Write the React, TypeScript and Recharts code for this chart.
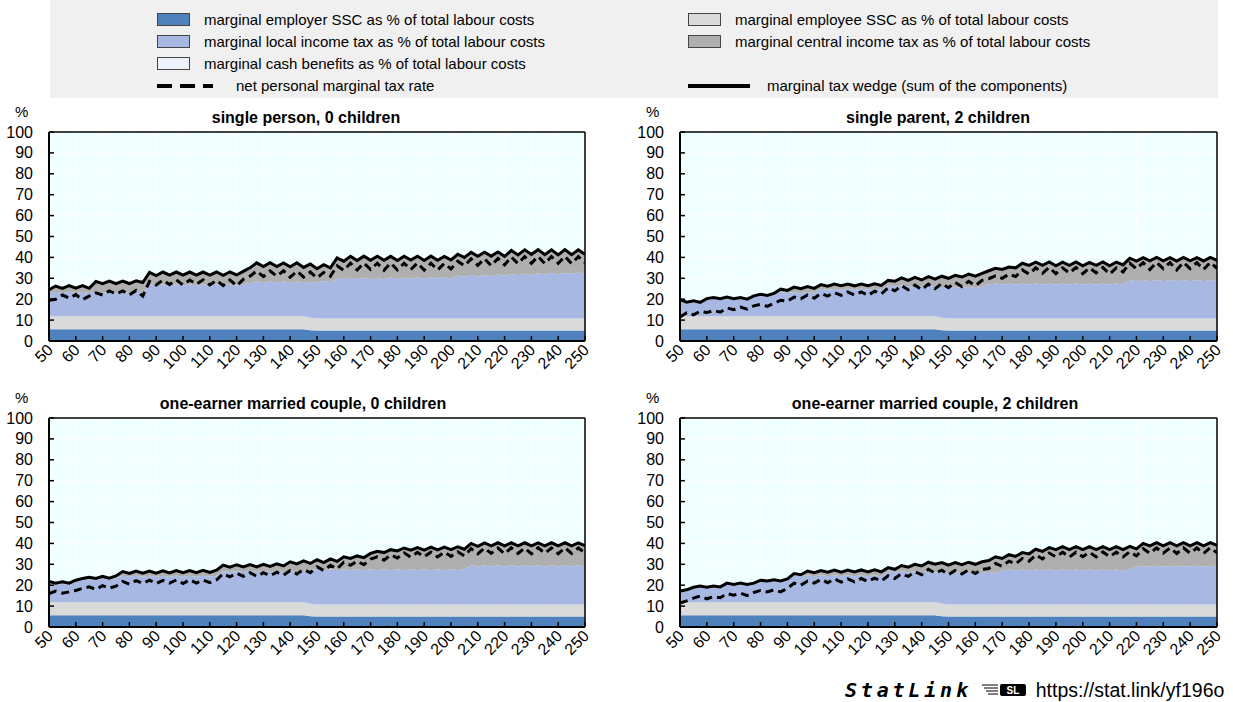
import { ComposedChart, Area, Line, XAxis, YAxis, CartesianGrid, ReferenceLine } from "recharts";

const FONT = "'Liberation Sans', Arial, sans-serif";

// gross earnings as % of average wage
const xs = [
  50, 52.5, 55, 57.5, 60, 62.5, 65, 67.5, 70, 72.5,
  75, 77.5, 80, 82.5, 85, 87.5, 90, 92.5, 95, 97.5,
  100, 102.5, 105, 107.5, 110, 112.5, 115, 117.5, 120, 122.5,
  125, 127.5, 130, 132.5, 135, 137.5, 140, 142.5, 145, 147.5,
  150, 152.5, 155, 157.5, 160, 162.5, 165, 167.5, 170, 172.5,
  175, 177.5, 180, 182.5, 185, 187.5, 190, 192.5, 195, 197.5,
  200, 202.5, 205, 207.5, 210, 212.5, 215, 217.5, 220, 222.5,
  225, 227.5, 230, 232.5, 235, 237.5, 240, 242.5, 245, 247.5,
  250,
];
const xTicks = [50, 60, 70, 80, 90, 100, 110, 120, 130, 140, 150, 160, 170, 180, 190, 200, 210, 220, 230, 240, 250];
const yTicks = [0, 10, 20, 30, 40, 50, 60, 70, 80, 90, 100];

// same for every household type
const employerSSC = [
  5.6, 5.6, 5.6, 5.6, 5.6, 5.6, 5.6, 5.6, 5.6, 5.6,
  5.6, 5.6, 5.6, 5.6, 5.6, 5.6, 5.6, 5.6, 5.6, 5.6,
  5.6, 5.6, 5.6, 5.6, 5.6, 5.6, 5.6, 5.6, 5.6, 5.6,
  5.6, 5.6, 5.6, 5.6, 5.6, 5.6, 5.6, 5.6, 5.6, 5.2,
  5.0, 5.0, 5.0, 5.0, 5.0, 5.0, 5.0, 5.0, 5.0, 5.0,
  5.0, 5.0, 5.0, 5.0, 5.0, 5.0, 5.0, 5.0, 5.0, 5.0,
  5.0, 5.0, 5.0, 5.0, 5.0, 5.0, 5.0, 5.0, 5.0, 5.0,
  5.0, 5.0, 5.0, 5.0, 5.0, 5.0, 5.0, 5.0, 5.0, 5.0,
  5.0,
];
const employeeSSC = [
  6.2, 6.2, 6.2, 6.2, 6.2, 6.2, 6.2, 6.2, 6.2, 6.2,
  6.2, 6.2, 6.2, 6.2, 6.2, 6.2, 6.2, 6.2, 6.2, 6.2,
  6.2, 6.2, 6.2, 6.2, 6.2, 6.2, 6.2, 6.2, 6.2, 6.2,
  6.2, 6.2, 6.2, 6.2, 6.2, 6.2, 6.2, 6.2, 6.2, 5.9,
  5.8, 5.8, 5.8, 5.8, 5.8, 5.8, 5.8, 5.8, 5.8, 5.8,
  5.8, 5.8, 5.8, 5.8, 5.8, 5.8, 5.8, 5.8, 5.8, 5.8,
  5.8, 5.8, 5.8, 5.8, 5.8, 5.8, 5.8, 5.8, 5.8, 5.8,
  5.8, 5.8, 5.8, 5.8, 5.8, 5.8, 5.8, 5.8, 5.8, 5.8,
  5.8,
];

// single person, 0 children
const singleWedge = [
  24.5, 26.3, 25.2, 26.5, 25.3, 26.5, 25.2, 28.5, 27.4, 28.7,
  27.4, 28.7, 27.5, 28.8, 28.0, 32.8, 31.3, 33.0, 31.5, 33.0,
  31.5, 33.0, 31.5, 33.0, 31.5, 33.0, 31.4, 33.0, 31.6, 33.3,
  35.0, 37.4, 35.6, 37.5, 35.6, 37.3, 35.5, 37.4, 35.2, 36.8,
  34.6, 36.5, 35.0, 39.8, 38.2, 40.5, 38.5, 40.6, 38.6, 40.6,
  38.6, 40.5, 38.5, 40.6, 38.7, 40.6, 38.5, 40.6, 38.6, 40.5,
  38.8, 41.5, 40.0, 42.4, 40.5, 42.5, 40.6, 42.6, 40.5, 43.3,
  41.2, 43.6, 41.4, 43.7, 41.3, 43.6, 41.2, 43.7, 41.3, 43.6,
  41.5,
];
const singleLocal = [
  11.0, 11.8, 11.0, 11.8, 11.0, 11.8, 11.0, 11.8, 11.2, 11.9,
  11.2, 11.9, 11.2, 11.9, 11.4, 15.4, 14.8, 15.4, 14.8, 15.4,
  14.8, 15.4, 14.8, 15.4, 14.8, 15.4, 14.8, 15.4, 14.8, 15.4,
  16.0, 16.8, 16.0, 16.8, 16.0, 16.8, 16.0, 16.8, 16.0, 17.0,
  17.3, 17.9, 17.3, 19.5, 18.7, 19.5, 18.7, 19.5, 18.7, 19.5,
  18.8, 19.6, 18.8, 19.6, 18.9, 19.7, 18.9, 19.7, 19.0, 19.8,
  19.0, 20.6, 20.0, 20.8, 20.1, 20.9, 20.2, 21.0, 20.4, 21.3,
  20.6, 21.5, 20.8, 21.6, 21.0, 21.8, 21.1, 21.9, 21.2, 22.0,
  21.4,
];
const singleNet = [
  19.5, 20.0, 22.0, 20.5, 22.2, 19.8, 21.5, 23.0, 22.0, 24.0,
  22.5, 24.0, 22.0, 24.2, 21.5, 28.5, 26.8, 29.2, 27.0, 29.3,
  26.8, 29.2, 27.2, 29.3, 26.8, 29.0, 26.5, 29.2, 26.4, 29.5,
  31.0, 33.5, 30.8, 33.5, 31.0, 33.6, 30.5, 33.4, 30.6, 33.0,
  30.2, 32.8, 31.0, 36.0, 33.8, 37.2, 34.0, 37.3, 34.2, 37.2,
  33.8, 37.3, 34.0, 37.2, 34.2, 37.3, 33.9, 37.2, 34.0, 37.1,
  34.5, 38.2, 36.0, 39.3, 36.2, 39.4, 36.0, 39.5, 36.4, 40.2,
  37.0, 40.4, 37.2, 40.5, 37.0, 40.4, 37.2, 40.5, 37.0, 40.4,
  37.5,
];

// single parent, 2 children
const parentWedge = [
  19.8, 18.6, 19.2, 18.5, 20.3, 20.8, 20.2, 21.0, 20.2, 20.8,
  20.0, 21.6, 22.4, 21.8, 22.8, 24.8, 24.2, 25.8, 25.0, 26.0,
  25.2, 27.0, 26.2, 27.2, 26.4, 27.2, 26.4, 27.3, 26.5, 27.4,
  26.6, 29.0, 28.6, 30.2, 29.0, 30.4, 29.2, 30.8, 29.6, 31.0,
  30.0, 31.4, 30.6, 32.0, 31.0, 32.4, 33.6, 34.8, 34.2, 35.4,
  35.0, 37.2, 36.2, 37.7, 36.2, 37.8, 36.0, 37.7, 36.2, 37.8,
  36.0, 37.6, 36.2, 37.8, 36.0, 37.7, 36.4, 39.6, 38.2, 39.9,
  38.4, 40.0, 38.4, 39.9, 38.2, 40.0, 38.4, 39.9, 38.3, 40.0,
  38.6,
];
const parentLocal = [
  7.4, 6.2, 6.8, 6.1, 7.9, 8.4, 7.8, 8.6, 7.8, 8.4,
  7.6, 9.2, 10.0, 9.4, 10.0, 11.7, 11.2, 11.7, 11.2, 11.7,
  11.2, 13.2, 12.7, 13.2, 12.7, 13.2, 12.7, 13.2, 12.7, 13.2,
  12.7, 14.8, 14.2, 14.8, 14.2, 14.8, 14.2, 14.8, 14.2, 14.8,
  14.6, 15.2, 14.6, 15.2, 14.6, 15.2, 16.2, 16.7, 16.2, 16.7,
  16.2, 16.7, 16.2, 16.7, 16.2, 16.7, 16.2, 16.7, 16.2, 16.7,
  16.2, 16.7, 16.2, 16.7, 16.2, 16.7, 16.2, 18.4, 17.8, 18.4,
  17.8, 18.4, 17.8, 18.4, 17.8, 18.4, 17.8, 18.4, 17.8, 18.4,
  17.8,
];
const parentNet = [
  11.5, 13.5, 12.5, 14.2, 13.6, 14.6, 13.8, 15.8, 15.0, 16.2,
  15.2, 16.8, 17.5, 16.6, 18.0, 19.5, 19.0, 21.0, 20.2, 22.0,
  20.5, 22.8, 21.5, 23.2, 21.8, 23.5, 22.0, 23.5, 21.8, 23.8,
  22.5, 25.5, 24.0, 26.5, 24.5, 26.8, 24.6, 27.2, 25.0, 27.5,
  25.5, 28.0, 26.0, 28.5, 26.5, 29.0, 29.8, 31.2, 30.0, 32.0,
  30.8, 34.0, 32.0, 35.0, 32.4, 35.2, 32.2, 35.0, 32.5, 35.2,
  32.2, 35.0, 32.6, 35.2, 32.0, 35.0, 33.0, 37.2, 34.5, 37.5,
  34.2, 37.6, 34.6, 37.5, 34.0, 37.6, 34.6, 37.5, 34.2, 37.6,
  34.8,
];

// one-earner married couple, 0 children
const couple0Wedge = [
  21.8, 21.0, 21.6, 21.0, 22.4, 23.2, 23.8, 23.2, 24.2, 23.4,
  24.4, 26.5, 25.6, 26.8, 25.8, 26.8, 25.8, 26.9, 25.9, 27.0,
  26.0, 27.0, 26.0, 27.1, 26.1, 27.2, 29.6, 28.6, 29.8, 28.8,
  29.9, 28.8, 30.0, 29.0, 30.2, 29.2, 31.2, 30.2, 31.6, 30.4,
  32.2, 30.8, 32.6, 31.4, 33.6, 32.8, 34.0, 33.2, 35.2, 36.2,
  35.6, 37.0, 36.4, 37.8, 36.8, 38.0, 36.8, 38.2, 36.9, 38.2,
  37.0, 38.4, 37.2, 40.0, 38.6, 40.2, 38.8, 40.3, 38.8, 40.3,
  38.8, 40.3, 38.8, 40.2, 38.8, 40.3, 38.8, 40.3, 38.8, 40.2,
  39.0,
];
const couple0Local = [
  9.1, 8.3, 8.9, 8.3, 9.7, 10.5, 11.1, 10.5, 11.5, 10.7,
  11.7, 12.7, 12.2, 12.7, 12.2, 12.7, 12.2, 12.7, 12.2, 12.7,
  12.2, 12.7, 12.2, 12.7, 12.2, 12.7, 15.0, 14.5, 15.0, 14.5,
  15.0, 14.5, 15.0, 14.5, 15.0, 14.5, 15.0, 14.5, 15.0, 16.4,
  16.8, 16.4, 16.8, 16.4, 16.8, 16.4, 16.8, 16.4, 16.8, 16.4,
  16.8, 16.4, 16.8, 16.4, 16.8, 16.4, 16.8, 16.4, 16.8, 16.4,
  16.8, 16.4, 16.8, 18.7, 18.2, 18.7, 18.2, 18.7, 18.2, 18.7,
  18.2, 18.7, 18.2, 18.7, 18.2, 18.7, 18.2, 18.7, 18.2, 18.7,
  18.2,
];
const couple0Net = [
  16.0, 17.2, 16.2, 16.8, 17.5, 18.5, 19.2, 18.0, 19.8, 18.6,
  19.5, 21.8, 20.5, 22.2, 20.8, 22.4, 20.8, 22.3, 21.0, 22.5,
  20.8, 22.6, 21.0, 22.5, 21.2, 22.5, 25.5, 24.0, 25.8, 24.2,
  26.0, 24.2, 26.0, 24.5, 26.2, 24.8, 27.0, 25.4, 27.5, 26.0,
  28.8, 27.0, 29.5, 27.8, 31.0, 29.5, 31.5, 29.8, 32.5, 33.6,
  32.0, 34.5, 33.0, 35.5, 33.4, 35.7, 33.6, 35.8, 33.5, 35.8,
  33.8, 36.0, 34.0, 37.5, 35.0, 37.8, 35.2, 37.8, 35.0, 37.9,
  35.2, 37.8, 35.0, 37.9, 35.3, 37.8, 35.0, 37.9, 35.2, 37.8,
  35.5,
];

// one-earner married couple, 2 children
const couple2Wedge = [
  17.2, 17.8, 19.0, 19.6, 19.0, 19.6, 19.2, 21.0, 20.4, 21.0,
  20.3, 21.0, 22.4, 22.0, 22.6, 22.0, 23.0, 25.6, 25.0, 26.8,
  26.0, 27.0, 26.2, 27.2, 26.2, 27.2, 26.3, 27.3, 26.3, 27.4,
  26.4, 28.4, 27.6, 29.4, 28.6, 30.0, 29.2, 31.0, 30.0, 30.8,
  29.6, 30.8, 29.8, 31.0, 30.0, 31.2, 31.8, 33.6, 32.8, 34.6,
  33.8, 35.6, 35.0, 37.2, 36.2, 38.0, 37.0, 38.4, 37.0, 38.4,
  37.0, 38.4, 37.0, 38.5, 37.0, 38.4, 37.0, 38.6, 37.4, 40.0,
  38.8, 40.4, 38.8, 40.4, 38.8, 40.4, 38.8, 40.4, 38.8, 40.4,
  39.0,
];
const couple2Local = [
  4.7, 5.3, 6.5, 7.1, 6.5, 7.1, 6.7, 8.5, 7.9, 8.5,
  7.8, 8.5, 9.9, 9.5, 10.1, 9.5, 10.5, 13.0, 12.5, 13.0,
  12.5, 13.0, 12.5, 13.0, 12.5, 13.0, 12.5, 13.0, 12.5, 13.0,
  12.5, 14.9, 14.4, 14.9, 14.4, 14.9, 14.4, 14.9, 14.4, 15.0,
  15.5, 15.0, 15.5, 15.0, 15.5, 15.0, 15.5, 15.0, 16.2, 16.7,
  16.2, 16.7, 16.2, 16.7, 16.2, 16.7, 16.2, 16.7, 16.2, 16.7,
  16.2, 16.7, 16.2, 16.7, 16.2, 16.7, 16.2, 16.7, 18.0, 18.5,
  18.0, 18.5, 18.0, 18.5, 18.0, 18.5, 18.0, 18.5, 18.0, 18.5,
  18.0,
];
const couple2Net = [
  11.5, 12.5, 13.8, 14.8, 13.5, 14.5, 14.0, 16.0, 15.2, 16.2,
  15.0, 16.5, 17.5, 16.8, 17.8, 16.8, 18.5, 21.0, 20.0, 22.0,
  21.0, 22.8, 21.2, 23.0, 21.5, 23.0, 21.6, 23.2, 21.8, 23.4,
  22.0, 24.5, 23.2, 25.5, 24.2, 26.5, 25.0, 27.6, 25.8, 27.2,
  25.0, 27.0, 25.4, 27.4, 25.6, 27.6, 28.0, 30.4, 29.0, 31.5,
  30.2, 32.8, 31.5, 34.5, 32.6, 35.4, 33.5, 35.8, 33.4, 35.8,
  33.6, 35.8, 33.5, 35.9, 33.6, 35.8, 33.5, 36.0, 34.0, 37.5,
  35.2, 37.8, 35.3, 37.8, 35.2, 37.9, 35.3, 37.8, 35.2, 37.9,
  35.5,
];

const C = {
  employer: "#4f81bd",
  employee: "#dadada",
  local: "#a7b9e3",
  central: "#afafaf",
  benefits: "#eef2fa",
  plot: "#f0ffff",
  legendBg: "#f0f0f0",
};

const XTick = (p: any) => {
  const { x, y, payload } = p;
  return (
    <g>
      <line x1={x} x2={x} y1={y} y2={y - 5} stroke="#000" strokeWidth={1.5} />
      <text
        x={x + 5}
        y={y + 10}
        textAnchor="end"
        fontSize={16}
        fontFamily={FONT}
        fill="#000"
        transform={`rotate(-45 ${x + 5} ${y + 10})`}
      >
        {payload.value}
      </text>
    </g>
  );
};

const YTick = (p: any) => {
  const { x, y, payload } = p;
  return (
    <g>
      <line x1={x} x2={x + 5} y1={y} y2={y} stroke="#000" strokeWidth={1.5} />
      <text x={x - 16} y={y} textAnchor="end" dominantBaseline="central" fontSize={16} fontFamily={FONT} fill="#000">
        {payload.value}
      </text>
    </g>
  );
};

interface PanelProps {
  left: number;
  top: number;
  width: number;
  wedge: number[];
  local: number[];
  net: number[];
}

function Panel({ left, top, width, wedge, local, net }: PanelProps) {
  const data = xs.map((x, i) => ({
    x,
    employer: employerSSC[i],
    employee: employeeSSC[i],
    local: local[i],
    central: Math.max(0, +(wedge[i] - employerSSC[i] - employeeSSC[i] - local[i]).toFixed(2)),
    wedge: wedge[i],
    net: net[i],
  }));

  return (
    <div style={{ position: "absolute", left, top }}>
      <ComposedChart width={width} height={290} data={data} margin={{ top: 32, right: 15, bottom: 4, left: 0 }}>
        <CartesianGrid stroke="#fff" strokeWidth={1} fill={C.plot} />
        <XAxis
          type="number"
          dataKey="x"
          domain={[50, 250]}
          ticks={xTicks}
          interval={0}
          tick={XTick}
          tickLine={false}
          tickSize={0}
          tickMargin={0}
          height={45}
          axisLine={{ stroke: "#000", strokeWidth: 2 }}
          allowDataOverflow
        />
        <YAxis
          type="number"
          domain={[0, 100]}
          ticks={yTicks}
          interval={0}
          tick={YTick}
          tickLine={false}
          tickSize={0}
          tickMargin={0}
          width={49}
          axisLine={{ stroke: "#000", strokeWidth: 2 }}
          allowDataOverflow
        />
        <Area type="linear" dataKey="employer" stackId="s" stroke="none" fill={C.employer} fillOpacity={1} isAnimationActive={false} activeDot={false} />
        <Area type="linear" dataKey="employee" stackId="s" stroke="none" fill={C.employee} fillOpacity={1} isAnimationActive={false} activeDot={false} />
        <Area type="linear" dataKey="local" stackId="s" stroke="none" fill={C.local} fillOpacity={1} isAnimationActive={false} activeDot={false} />
        <Area type="linear" dataKey="central" stackId="s" stroke="none" fill={C.central} fillOpacity={1} isAnimationActive={false} activeDot={false} />
        <Line type="linear" dataKey="net" stroke="#000" strokeWidth={3} strokeDasharray="8 5" dot={false} activeDot={false} isAnimationActive={false} />
        <Line type="linear" dataKey="wedge" stroke="#000" strokeWidth={3} dot={false} activeDot={false} isAnimationActive={false} />
        <ReferenceLine y={100} stroke="#000" strokeWidth={1.5} />
        <ReferenceLine x={250} stroke="#000" strokeWidth={1.5} />
      </ComposedChart>
    </div>
  );
}

const Title = ({ cx, top, text }: { cx: number; top: number; text: string }) => (
  <div
    style={{
      position: "absolute",
      left: cx,
      top,
      transform: "translateX(-50%)",
      fontSize: 16,
      lineHeight: "16px",
      fontWeight: "bold",
      whiteSpace: "nowrap",
    }}
  >
    {text}
  </div>
);

const Pct = ({ left, top }: { left: number; top: number }) => (
  <div style={{ position: "absolute", left, top, fontSize: 15, lineHeight: "15px" }}>%</div>
);

const Swatch = ({ color }: { color: string }) => (
  <span style={{ display: "inline-block", width: 31, height: 11, background: color, border: "1px solid #444" }} />
);

const LegendRow = ({ left, cy, mark, label, gap }: { left: number; cy: number; mark: any; label: string; gap: number }) => (
  <div style={{ position: "absolute", left, top: cy - 11, height: 22, display: "flex", alignItems: "center", fontSize: 15, whiteSpace: "nowrap" }}>
    {mark}
    <span style={{ marginLeft: gap }}>{label}</span>
  </div>
);

function LegendBox() {
  const dashed = (
    <svg width={56} height={6}>
      <line x1={0} x2={56} y1={3} y2={3} stroke="#000" strokeWidth={4} strokeDasharray="15 8" />
    </svg>
  );
  const solid = (
    <svg width={62} height={6}>
      <line x1={0} x2={62} y1={3} y2={3} stroke="#000" strokeWidth={4} />
    </svg>
  );
  return (
    <div style={{ position: "absolute", left: 50, top: 0, width: 1168, height: 98, background: C.legendBg }}>
      <LegendRow left={107} cy={19.5} mark={<Swatch color={C.employer} />} label="marginal employer SSC as % of total labour costs" gap={14} />
      <LegendRow left={107} cy={41.5} mark={<Swatch color={C.local} />} label="marginal local income tax as % of total labour costs" gap={14} />
      <LegendRow left={107} cy={63.5} mark={<Swatch color={C.benefits} />} label="marginal cash benefits as % of total labour costs" gap={14} />
      <LegendRow left={107} cy={85.5} mark={dashed} label="net personal marginal tax rate" gap={23} />
      <LegendRow left={638} cy={19.5} mark={<Swatch color={C.employee} />} label="marginal employee SSC as % of total labour costs" gap={14} />
      <LegendRow left={638} cy={41.5} mark={<Swatch color={C.central} />} label="marginal central income tax as % of total labour costs" gap={14} />
      <LegendRow left={638} cy={85.5} mark={solid} label="marginal tax wedge (sum of the components)" gap={17} />
    </div>
  );
}

function StatLink() {
  return (
    <div style={{ position: "absolute", left: 845, top: 679, height: 22, display: "flex", alignItems: "center", whiteSpace: "nowrap" }}>
      <span style={{ fontFamily: "'DejaVu Sans Mono', monospace", fontStyle: "italic", fontWeight: "bold", fontSize: 20, letterSpacing: 3.8 }}>
        StatLink
      </span>
      <svg width={44} height={14} style={{ marginLeft: 10 }}>
        <line x1={0} x2={16} y1={2} y2={2} stroke="#000" strokeWidth={1} />
        <line x1={2} x2={16} y1={5} y2={5} stroke="#000" strokeWidth={1} />
        <line x1={4} x2={16} y1={8} y2={8} stroke="#000" strokeWidth={1} />
        <line x1={6} x2={16} y1={11} y2={11} stroke="#000" strokeWidth={1} />
        <rect x={18} y={1} width={26} height={12} rx={2} fill="#000" />
        <text x={31} y={11} textAnchor="middle" fontSize={10} fontWeight="bold" fill="#fff" fontFamily={FONT}>
          SL
        </text>
      </svg>
      <span style={{ marginLeft: 10, fontSize: 19.5 }}>https://stat.link/yf196o</span>
    </div>
  );
}

export default function App() {
  return (
    <div
      style={{
        position: "absolute",
        left: 0,
        top: 0,
        width: 1233,
        height: 702,
        background: "#fff",
        fontFamily: FONT,
        color: "#000",
        overflow: "hidden",
      }}
    >
      <LegendBox />

      <Panel left={0} top={100} width={600} wedge={singleWedge} local={singleLocal} net={singleNet} />
      <Panel left={631} top={100} width={601} wedge={parentWedge} local={parentLocal} net={parentNet} />
      <Panel left={0} top={386} width={600} wedge={couple0Wedge} local={couple0Local} net={couple0Net} />
      <Panel left={631} top={386} width={601} wedge={couple2Wedge} local={couple2Local} net={couple2Net} />

      <Title cx={306} top={110} text="single person, 0 children" />
      <Title cx={938} top={110} text="single parent, 2 children" />
      <Title cx={303} top={396} text="one-earner married couple, 0 children" />
      <Title cx={935} top={396} text="one-earner married couple, 2 children" />

      <Pct left={15} top={104} />
      <Pct left={646} top={104} />
      <Pct left={15} top={390} />
      <Pct left={646} top={390} />

      <StatLink />
    </div>
  );
}
